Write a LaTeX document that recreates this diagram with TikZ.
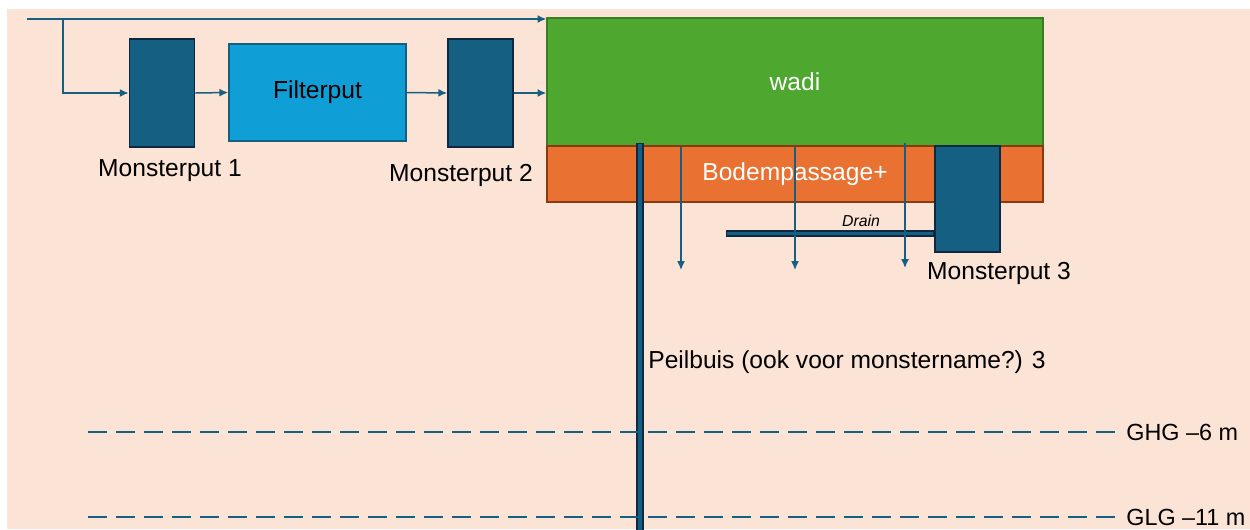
\documentclass[tikz,border=0pt]{standalone}
\usepackage{fontspec}
\setmainfont{Liberation Sans}
\usetikzlibrary{arrows.meta}
\definecolor{bg}{HTML}{FBE3D6}
\definecolor{put}{HTML}{156082}
\definecolor{putrand}{HTML}{0E2841}
\definecolor{filt}{HTML}{0F9ED5}
\definecolor{gras}{HTML}{4EA72E}
\definecolor{grasrand}{HTML}{3B7D23}
\definecolor{bodem}{HTML}{E97132}
\definecolor{bodemrand}{HTML}{8A3A10}
\begin{document}
\begin{tikzpicture}[x=0.02cm,y=-0.02cm,
		lbl/.style={font=\fontsize{14}{16}\selectfont,inner sep=0pt},
		put/.style={draw=putrand,fill=put,line width=0.9pt,inner sep=0pt,minimum width=1.3cm,minimum height=2.16cm},
		laag/.style={line width=0.8pt,inner sep=0pt,minimum width=9.92cm,text=white,font=\fontsize{14}{16}\selectfont},
		pijl/.style={draw=put,line width=0.85pt,-{Latex[length=5pt,width=4.5pt]}},
		peil/.style={draw=put,line width=1.4pt,dash pattern=on 0.38cm off 0.18cm}]
	\useasboundingbox (0,0) rectangle (1250,529);
	\fill[bg] (7,9) rectangle (1250,529);
	\node[put] (mp1) at (162,93) {};
	\node[draw=put,fill=filt,line width=0.9pt,inner sep=0pt,minimum width=3.54cm,minimum height=1.94cm,font=\fontsize{14}{16}\selectfont] (filter) at (317.5,92.5) {Filterput};
	\node[put] (mp2) at (480.5,93) {};
	\node[laag,draw=grasrand,fill=gras,minimum height=2.56cm] (wadi) at (795,82) {wadi};
	\node[laag,draw=bodemrand,fill=bodem,minimum height=1.12cm] (bodem) at (795,174) {Bodempassage+};
	\node[put,minimum height=2.12cm] (mp3) at (967.5,199) {};
	\node[draw=putrand,fill=put,line width=0.8pt,inner sep=0pt,minimum width=4.14cm,minimum height=0.1cm,anchor=east] (drain) at (mp3.west |- 0,233.5) {};
	\node[draw=putrand,fill=put,line width=0.8pt,inner sep=0pt,minimum width=0.12cm,minimum height=7.8cm,anchor=north] (buis) at (640,143) {};
	\node[lbl] (mp1t) at (170,171) {Monsterput 1};
	\node[lbl] (mp2t) at (461,175) {Monsterput 2};
	\node[lbl] (mp3t) at (999,273) {Monsterput 3};
	\node[font=\fontsize{9}{11}\selectfont\itshape,inner sep=0pt] (draint) at (861,221) {Drain};
	\node[lbl,anchor=west] (buist) at (648,362) {Peilbuis (ook voor monstername?) 3};
	\node[lbl,font=\fontsize{13.3}{16}\selectfont,anchor=west] (ghg) at (1126,432) {GHG --6 m};
	\node[lbl,font=\fontsize{13.3}{16}\selectfont,anchor=west] (glg) at (1126,517) {GLG --11 m};
	\coordinate (in) at (27,19);
	\coordinate (tak) at (63,19);
	\coordinate (d1) at (681,270);
	\coordinate (d2) at (795,270);
	\coordinate (d3) at (905,268);
	\coordinate (ghgL) at (88,432);
	\coordinate (glgL) at (88,517);
	\draw[pijl] (in) -- (in -| wadi.west);
	\draw[pijl] (tak) |- (mp1.west);
	\draw[pijl] (mp1.east) -- (filter.west);
	\draw[pijl] (filter.east) -- (mp2.west);
	\draw[pijl] (mp2.east) -- (mp2.east -| wadi.west);
	\draw[pijl] (d1 |- wadi.south) -- (d1);
	\draw[pijl] (d2 |- wadi.south) -- (d2);
	\draw[pijl] (d3 |- 0,143) -- (d3);
	\draw[peil] (ghgL) -- ([xshift=-6pt]ghg.west);
	\draw[peil] (glgL) -- ([xshift=-6pt]glg.west);
\end{tikzpicture}
\end{document}
